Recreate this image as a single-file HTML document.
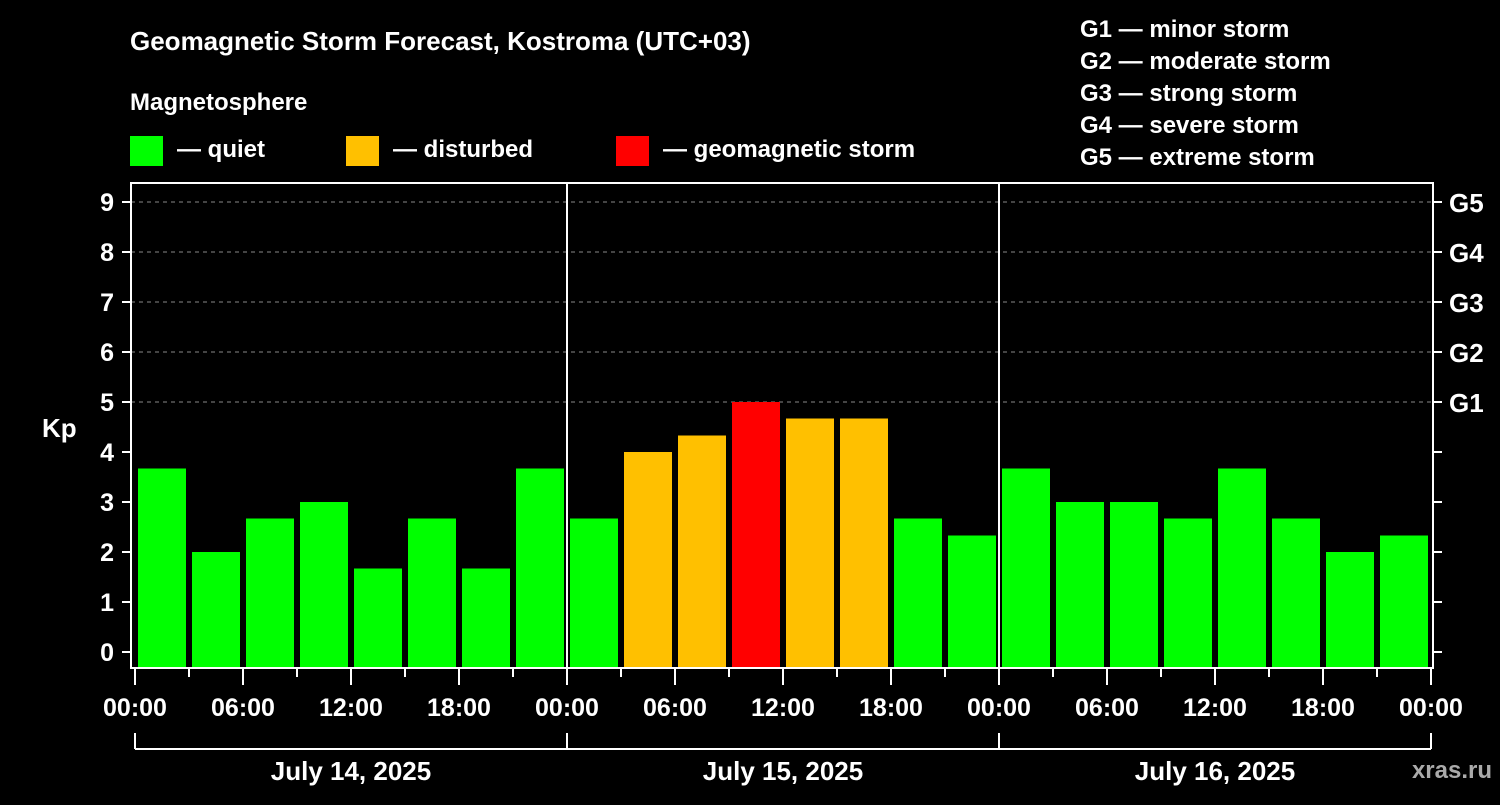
<!DOCTYPE html>
<html><head><meta charset="utf-8"><style>
body{margin:0;background:#000;width:1500px;height:800px;overflow:hidden}
svg text{font-family:"Liberation Sans",Arial,sans-serif;font-weight:bold;fill:#fff}
</style></head><body>
<svg width="1500" height="800">
<text x="130" y="50" font-size="26">Geomagnetic Storm Forecast, Kostroma (UTC+03)</text>
<text x="130" y="110" font-size="24">Magnetosphere</text>
<g>
<rect x="130" y="136" width="33" height="30" fill="#00ff00"/>
<text x="177" y="157" font-size="24">— quiet</text>
<rect x="346" y="136" width="33" height="30" fill="#ffc000"/>
<text x="393" y="157" font-size="24">— disturbed</text>
<rect x="616" y="136" width="33" height="30" fill="#ff0000"/>
<text x="663" y="157" font-size="24">— geomagnetic storm</text>
</g>
<g font-size="24">
<text x="1080" y="37">G1 — minor storm</text>
<text x="1080" y="69">G2 — moderate storm</text>
<text x="1080" y="101">G3 — strong storm</text>
<text x="1080" y="133">G4 — severe storm</text>
<text x="1080" y="165">G5 — extreme storm</text>
</g>
<text x="42" y="437" font-size="26">Kp</text>
<text x="1492" y="778" font-size="24" text-anchor="end" fill="#aaa" style="fill:#aaa">xras.ru</text>
<g id="plot"></g>
</svg>
<script>
const values=[3.67,2,2.67,3,1.67,2.67,1.67,3.67, 2.67,4,4.33,5,4.67,4.67,2.67,2.33, 3.67,3,3,2.67,3.67,2.67,2,2.33];
const dayLabels=["July 14, 2025","July 15, 2025","July 16, 2025"];
const hourLabels=["00:00","06:00","12:00","18:00"];
const gLabels=["G1","G2","G3","G4","G5"];
const NS="http://www.w3.org/2000/svg";
const g=document.getElementById('plot');
const x0=135,slot=54,yBottom=668;
const X=i=>x0+slot*i;
const Y=v=>652-50*v;
function el(t,a,p){const e=document.createElementNS(NS,t);for(const k in a)e.setAttribute(k,a[k]);(p||g).appendChild(e);return e;}
// grid
for(let v=5;v<=9;v++){const l=el('line',{x1:131,x2:1433,y1:Y(v),y2:Y(v),stroke:'#888','stroke-dasharray':'4,4'});

}
// bars
values.forEach((v,i)=>{const c=v>=5?'#ff0000':v>=4?'#ffc000':'#00ff00';
const r=el('rect',{x:X(i)+3,y:Y(v),width:48,height:yBottom-Y(v),fill:c});

});
// frame
el('rect',{x:131,y:183,width:1302,height:485,fill:'none',stroke:'#fff','stroke-width':2});
[1,2].forEach(d=>el('line',{x1:X(8*d),x2:X(8*d),y1:183,y2:668,stroke:'#fff','stroke-width':2}));
// y ticks
for(let v=0;v<=9;v++){
el('line',{x1:122,x2:131,y1:Y(v),y2:Y(v),stroke:'#fff','stroke-width':2});
el('line',{x1:1433,x2:1442,y1:Y(v),y2:Y(v),stroke:'#fff','stroke-width':2});
const t=el('text',{x:114,y:Y(v)+9,'font-size':25,'text-anchor':'end'});t.textContent=v;


if(v>=5){const gt=el('text',{x:1449,y:Y(v)+10,'font-size':26});gt.textContent=gLabels[v-5];

}}
// x ticks
for(let i=0;i<=24;i++){const major=i%2==0;
el('line',{x1:X(i),x2:X(i),y1:668,y2:major?685:677,stroke:'#fff','stroke-width':2});
if(major&&(i%8!=0||true)&&(i%2==0)&&(i%8==0||i%2==0)){}
}
for(let i=0;i<=12;i++){const t=el('text',{x:X(2*i),y:716,'font-size':25,'text-anchor':'middle'});t.textContent=hourLabels[i%4];

}
// date brackets
el('line',{x1:X(0),x2:X(24),y1:749,y2:749,stroke:'#fff','stroke-width':2});
for(let d=0;d<=3;d++)el('line',{x1:X(8*d),x2:X(8*d),y1:733,y2:749,stroke:'#fff','stroke-width':2});
dayLabels.forEach((s,d)=>{const t=el('text',{x:X(8*d+4),y:780,'font-size':26,'text-anchor':'middle'});t.textContent=s;

});
</script>
</body></html>
